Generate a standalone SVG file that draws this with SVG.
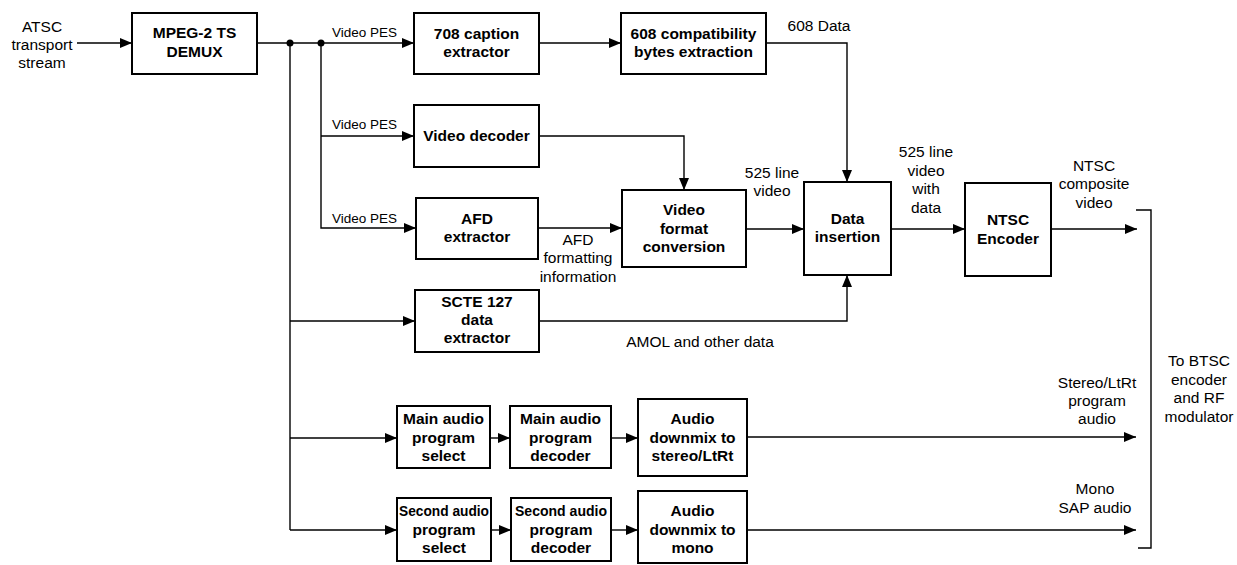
<svg xmlns="http://www.w3.org/2000/svg" width="1237" height="565" viewBox="0 0 1237 565">
<style>
.box{fill:#fff;stroke:#000;stroke-width:2}
.b{font-family:"Liberation Sans",Arial,sans-serif;font-size:15.5px;font-weight:bold;text-anchor:middle;fill:#000}
.l{font-family:"Liberation Sans",Arial,sans-serif;font-size:15.5px;text-anchor:middle;fill:#000}
.s{font-family:"Liberation Sans",Arial,sans-serif;font-size:13.5px;fill:#000}
.c{fill:none;stroke:#000;stroke-width:1.4}
.a{marker-end:url(#ah)}
</style>
<defs>
<marker id="ah" markerUnits="userSpaceOnUse" markerWidth="12" markerHeight="10" refX="12" refY="5" orient="auto"><path d="M0,0 L12,5 L0,10 z" fill="#000"/></marker>
</defs>
<rect width="1237" height="565" fill="#fff"/>
<g id="connectors">
<path class="c a" d="M77 43 H132"/>
<path class="c a" d="M257 43 H414"/>
<path class="c a" d="M321 43 V228 H416"/>
<path class="c a" d="M321 136 H414"/>
<path class="c" d="M290 43 V530"/>
<path class="c a" d="M290 321 H415"/>
<path class="c a" d="M290 438 H397"/>
<path class="c a" d="M290 530 H397"/>
<path class="c a" d="M539 43 H621"/>
<path class="c a" d="M766 43 H847 V182"/>
<path class="c a" d="M539 136 H684 V190"/>
<path class="c a" d="M538 228 H622"/>
<path class="c a" d="M746 229 H804"/>
<path class="c a" d="M539 321 H847 V275"/>
<path class="c a" d="M891 229 H965"/>
<path class="c a" d="M1051 229 H1137"/>
<path class="c" d="M1136 210 H1151 V548 H1138"/>
<path class="c a" d="M490 438 H510"/>
<path class="c a" d="M611 438 H638"/>
<path class="c a" d="M747 437 H1136"/>
<path class="c a" d="M491 530 H511"/>
<path class="c a" d="M611 530 H638"/>
<path class="c a" d="M747 530 H1136"/>
<circle cx="290" cy="43" r="3.5" fill="#000"/>
<circle cx="321" cy="43" r="3.5" fill="#000"/>
<text class="s" x="332" y="37">Video PES</text>
<text class="s" x="332" y="129">Video PES</text>
<text class="s" x="332" y="223">Video PES</text>
<text class="l" x="42" y="32">ATSC</text>
<text class="l" x="42" y="50">transport</text>
<text class="l" x="42" y="68">stream</text>
<text class="l" x="819" y="31">608 Data</text>
<text class="l" x="772" y="178">525 line</text>
<text class="l" x="772" y="196">video</text>
<text class="l" x="926" y="157">525 line</text>
<text class="l" x="926" y="176">video</text>
<text class="l" x="926" y="194">with</text>
<text class="l" x="926" y="213">data</text>
<text class="l" x="1094" y="171">NTSC</text>
<text class="l" x="1094" y="189">composite</text>
<text class="l" x="1094" y="208">video</text>
<text class="l" x="578" y="245">AFD</text>
<text class="l" x="578" y="263">formatting</text>
<text class="l" x="578" y="282">information</text>
<text class="l" x="700" y="347">AMOL and other data</text>
<text class="l" x="1097" y="388">Stereo/LtRt</text>
<text class="l" x="1097" y="406">program</text>
<text class="l" x="1097" y="424">audio</text>
<text class="l" x="1095" y="494">Mono</text>
<text class="l" x="1095" y="513">SAP audio</text>
<text class="l" x="1199" y="366">To BTSC</text>
<text class="l" x="1199" y="385">encoder</text>
<text class="l" x="1199" y="403">and RF</text>
<text class="l" x="1199" y="422">modulator</text>
</g>
<g id="demux"><rect class="box" x="132" y="13" width="125" height="61"/><text class="b" x="194.5" y="38">MPEG-2 TS</text><text class="b" x="194.5" y="57">DEMUX</text></g>
<g id="cap708"><rect class="box" x="414" y="13" width="125" height="61"/><text class="b" x="476.5" y="39">708 caption</text><text class="b" x="476.5" y="57">extractor</text></g>
<g id="compat608"><rect class="box" x="621" y="13" width="145" height="61"/><text class="b" x="693.5" y="39">608 compatibility</text><text class="b" x="693.5" y="57">bytes extraction</text></g>
<g id="vdec"><rect class="box" x="414" y="105" width="125" height="62"/><text class="b" x="476.5" y="141">Video decoder</text></g>
<g id="afd"><rect class="box" x="416" y="198" width="122" height="61"/><text class="b" x="477" y="224">AFD</text><text class="b" x="477" y="242">extractor</text></g>
<g id="scte"><rect class="box" x="415" y="290" width="124" height="62"/><text class="b" x="477" y="307">SCTE 127</text><text class="b" x="477" y="325">data</text><text class="b" x="477" y="343">extractor</text></g>
<g id="vfc"><rect class="box" x="622" y="190" width="124" height="77"/><text class="b" x="684" y="215">Video</text><text class="b" x="684" y="234">format</text><text class="b" x="684" y="252">conversion</text></g>
<g id="datains"><rect class="box" x="804" y="182" width="87" height="93"/><text class="b" x="847.5" y="224">Data</text><text class="b" x="847.5" y="242">insertion</text></g>
<g id="ntsc"><rect class="box" x="965" y="183" width="86" height="93"/><text class="b" x="1008" y="225">NTSC</text><text class="b" x="1008" y="244">Encoder</text></g>
<g id="mainsel"><rect class="box" x="397" y="406" width="93" height="62"/><text class="b" x="443.5" y="424">Main audio</text><text class="b" x="443.5" y="443">program</text><text class="b" x="443.5" y="461">select</text></g>
<g id="maindec"><rect class="box" x="510" y="406" width="101" height="62"/><text class="b" x="560.5" y="424">Main audio</text><text class="b" x="560.5" y="443">program</text><text class="b" x="560.5" y="461">decoder</text></g>
<g id="stereomix"><rect class="box" x="638" y="399" width="109" height="77"/><text class="b" x="692.5" y="424">Audio</text><text class="b" x="692.5" y="443">downmix to</text><text class="b" x="692.5" y="461">stereo/LtRt</text></g>
<g id="secsel"><rect class="box" x="397" y="498" width="94" height="63"/><text class="b" x="444" y="516" textLength="90" lengthAdjust="spacingAndGlyphs">Second audio</text><text class="b" x="444" y="535">program</text><text class="b" x="444" y="553">select</text></g>
<g id="secdec"><rect class="box" x="511" y="498" width="100" height="63"/><text class="b" x="561" y="516" textLength="92" lengthAdjust="spacingAndGlyphs">Second audio</text><text class="b" x="561" y="535">program</text><text class="b" x="561" y="553">decoder</text></g>
<g id="monomix"><rect class="box" x="638" y="491" width="109" height="72"/><text class="b" x="692.5" y="516">Audio</text><text class="b" x="692.5" y="535">downmix to</text><text class="b" x="692.5" y="553">mono</text></g>
</svg>
